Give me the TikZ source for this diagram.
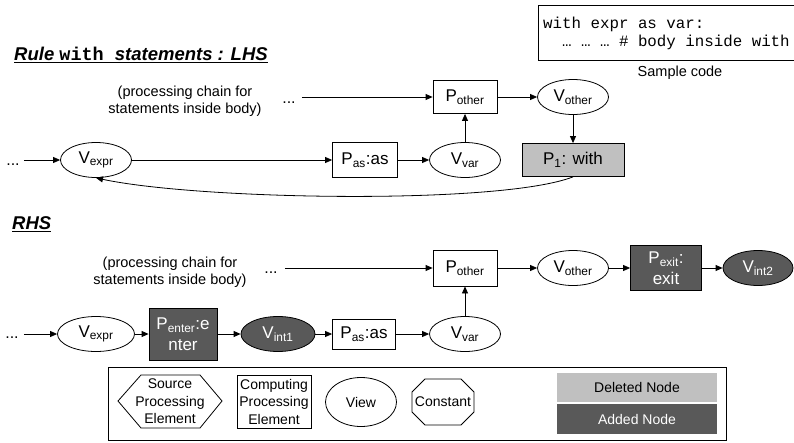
\documentclass[tikz,border=0pt]{standalone}
\usepackage{fontspec}
\setmainfont{Liberation Sans}
\setmonofont{Liberation Mono}
\usetikzlibrary{arrows.meta,shapes.geometric}
\definecolor{addfill}{HTML}{595959}
\definecolor{delfill}{HTML}{C0C0C0}

\tikzset{
  nfont/.style={font=\fontsize{17}{20.5}\selectfont},
  sfont/.style={font=\fontsize{14.5}{17}\selectfont},
  lfont/.style={font=\fontsize{14}{17.5}\selectfont},
  proc/.style={draw, line width=0.8pt, rectangle, inner sep=0pt, nfont, align=center,
               minimum width=64pt, minimum height=33pt},
  view/.style={draw, line width=0.8pt, ellipse, inner sep=0pt, nfont,
               minimum width=71pt, minimum height=35pt},
  added/.style={fill=addfill, text=white},
  deleted/.style={fill=delfill},
  flow/.style={line width=0.8pt, -{Triangle[length=7pt,width=6pt]}},
  hdr/.style={anchor=base west, inner sep=0pt, font=\fontsize{18.5}{21}\selectfont\bfseries\itshape},
  dotsnode/.style={anchor=base, inner sep=0pt, font=\fontsize{16}{18}\selectfont},
  chain/.style={sfont, align=center, inner sep=0pt},
  codeline/.style={anchor=base west, inner sep=0pt, font=\ttfamily\fontsize{15.8}{18}\selectfont},
  shapeline/.style={line width=0.8pt},
}

\begin{document}
\begin{tikzpicture}[x=1pt,y=-1pt]
\useasboundingbox (0,0) rectangle (794,442);

% ---------- sample code ----------
\draw[line width=0.8pt] (538,5) rectangle (796,60);
\node[codeline] (code1) at (543,28) {with expr as var:};
\node[codeline] (code2) at (543,46) {\phantom{xx}… … … \# body inside with};
\node[sfont, inner sep=0pt] (cap) at (680,73) {Sample code};

% ---------- LHS ----------
\node[hdr] (ttlL) at (14,60) {Rule {\ttfamily\bfseries\upshape with }statements : LHS};
\draw[line width=1pt] ([yshift=-2.5pt]ttlL.base west) -- ([yshift=-2.5pt]ttlL.base east);

\node[chain] (chainL) at (185,101) {(processing chain for\\statements inside body)};
\node[dotsnode] (dL2) at (289,103) {...};
\node[dotsnode] (dL1) at (13,165) {...};

\node[view] (vexprL) at (96,160) {V\textsubscript{expr}};
\node[proc, minimum width=65pt, minimum height=35pt] (pasL) at (365,160) {P\textsubscript{as}:as};
\node[view] (vvarL) at (465,160) {V\textsubscript{var}};
\node[proc] (potherL) at (465,97) {P\textsubscript{other}};
\node[view] (votherL) at (573,97) {V\textsubscript{other}};
\node[proc, deleted, minimum width=102pt] (p1) at (573,160) {P\textsubscript{1}: with};

\draw[flow] (dL1.east |- vexprL) ++(4,0) -- (vexprL);
\draw[flow] (vexprL) -- (pasL);
\draw[flow] (pasL) -- (vvarL);
\draw[flow] (vvarL) -- (potherL);
\draw[flow] (dL2.east |- potherL) ++(6,0) -- (potherL);
\draw[flow] (potherL) -- (votherL);
\draw[flow] (votherL) -- (p1);
\draw[flow] (p1.south) .. controls (500,205) and (200,200) .. (vexprL.south);

% ---------- RHS ----------
\node[hdr] (ttlR) at (12,229) {RHS};
\draw[line width=1pt] ([yshift=-2.5pt]ttlR.base west) -- ([yshift=-2.5pt]ttlR.base east);

\node[chain] (chainR) at (170,272) {(processing chain for\\statements inside body)};
\node[dotsnode] (dR2) at (271,273) {...};
\node[dotsnode] (dR1) at (12,338) {...};

\node[view, minimum width=77pt] (vexprR) at (96,334) {V\textsubscript{expr}};
\node[proc, added, minimum width=68pt, minimum height=52pt] (penter) at (183,334)
  {P\textsubscript{enter}:e\\nter};
\node[view, added, minimum width=74pt] (vint1) at (278,334) {V\textsubscript{int1}};
\node[proc, minimum width=63pt, minimum height=30pt] (pasR) at (364,334) {P\textsubscript{as}:as};
\node[view] (vvarR) at (465,334) {V\textsubscript{var}};
\node[proc, minimum height=36pt] (potherR) at (465,268) {P\textsubscript{other}};
\node[view] (votherR) at (573,268) {V\textsubscript{other}};
\node[proc, added, minimum width=71pt, minimum height=45pt] (pexit) at (666,268)
  {P\textsubscript{exit}:\\exit};
\node[view, added, minimum width=70pt] (vint2) at (758,268) {V\textsubscript{int2}};

\draw[flow] (dR1.east |- vexprR) ++(5,0) -- (vexprR);
\draw[flow] (vexprR) -- (penter);
\draw[flow] (penter) -- (vint1);
\draw[flow] (vint1) -- (pasR);
\draw[flow] (pasR) -- (vvarR);
\draw[flow] (vvarR) -- (potherR);
\draw[flow] (dR2.east |- potherR) ++(7,0) -- (potherR);
\draw[flow] (potherR) -- (votherR);
\draw[flow] (votherR) -- (pexit);
\draw[flow] (pexit) -- (vint2);

% ---------- legend ----------
\node[draw, line width=0.8pt, minimum width=618pt, minimum height=73pt, inner sep=0pt]
  (legend) at (417,403.5) {};

\draw[shapeline] (118,401) -- (141,375) -- (200,375) -- (222,401) -- (200,428) -- (141,428) -- cycle;
\node[lfont, align=center, inner sep=0pt] (srcpe) at (170,401.5) {Source\\Processing\\Element};

\node[draw, line width=0.8pt, lfont, align=center, inner sep=0pt,
      minimum width=74pt, minimum height=53pt] (comppe) at (274,401.5) {Computing\\Processing\\Element};

\node[draw, line width=0.8pt, ellipse, lfont, inner sep=0pt,
      minimum width=71pt, minimum height=49pt] (viewl) at (361,402) {View};

\draw[shapeline] (412,392) -- (425,379) -- (461,379) -- (474,392) -- (474,412) -- (461,425) -- (425,425) -- (412,412) -- cycle;
\node[lfont, inner sep=0pt] (constl) at (443,402) {Constant};

\node[deleted, lfont, inner sep=0pt, minimum width=160pt, minimum height=29pt] (dell) at (637,387.5) {Deleted Node};
\node[added, lfont, inner sep=0pt, minimum width=160pt, minimum height=30pt] (addl) at (637,419) {Added Node};

\end{tikzpicture}
\end{document}
